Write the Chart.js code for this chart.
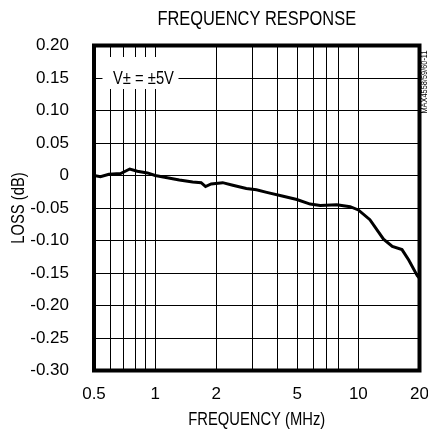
<!DOCTYPE html>
<html>
<head>
<meta charset="utf-8">
<script src="https://cdn.jsdelivr.net/npm/chart.js@4"></script>
<style>
    html, body { margin: 0; padding: 0; background: #fff; }
    #chart { display: block; }
</style>
</head>
<body>
<canvas id="chart" width="428" height="433"></canvas>
<script>
// Frequency (MHz) and loss (dB)
const freqMHz = [0.5, 0.538, 0.592, 0.676, 0.75, 0.817, 0.916, 1.0, 1.13, 1.315, 1.53, 1.684, 1.77, 1.886,
    2.15, 2.41, 2.81, 3.15, 3.54, 4.27, 4.98, 5.79, 6.49, 7.83, 9.11, 10.0, 11.4, 13.3, 14.7, 16.4, 17.7, 19.5, 20];
const lossDb = [0.0, -0.002, 0.002, 0.003, 0.010, 0.0065, 0.004, 0.0, -0.003, -0.007, -0.010, -0.011, -0.017, -0.013,
    -0.011, -0.015, -0.020, -0.022, -0.026, -0.032, -0.037, -0.044, -0.046, -0.045, -0.048, -0.053, -0.068, -0.098,
    -0.109, -0.114, -0.130, -0.154, -0.158];

// Axis ticks
const xGridValues = [0.5, 0.6, 0.7, 0.8, 0.9, 1, 2, 3, 4, 5, 6, 7, 8, 10, 20];
const xTickLabels = [0.5, 1, 2, 5, 10, 20];
const yTickValues = [-0.30, -0.25, -0.20, -0.15, -0.10, -0.05, 0, 0.05, 0.10, 0.15, 0.20];

const FONT = '"Liberation Sans", Arial, sans-serif';

// the original uses a narrow Helvetica, so squeeze the text sideways
function narrowText(ctx, text, x, y, size, angle) {
    ctx.save();
    ctx.translate(x, y);
    if (angle) ctx.rotate(angle);
    ctx.scale(0.82, 1);
    ctx.font = size + 'px ' + FONT;
    ctx.fillStyle = '#000';
    ctx.textAlign = 'center';
    ctx.textBaseline = 'middle';
    ctx.fillText(text, 0, 0);
    ctx.restore();
}

// Titles, V+- label, frame and side code
const decorPlugin = {
    id: 'decor',
    beforeDatasetsDraw(chart) {
        const ctx = chart.ctx;
        const x = chart.scales.x, y = chart.scales.y;
        const cx = x.getPixelForValue(0.876);
        const cy = y.getPixelForValue(0.15);
        ctx.save();
        ctx.fillStyle = '#fff';
        ctx.fillRect(cx - 41, cy - 21, 76, 32);
        ctx.restore();
        narrowText(ctx, 'V\u00B1 = \u00B15V', cx, cy + 1, 18);
    },
    afterDraw(chart) {
        const ctx = chart.ctx;
        const a = chart.chartArea;
        ctx.save();
        ctx.strokeStyle = '#000';
        ctx.lineWidth = 4;
        ctx.strokeRect(a.left, a.top, a.right - a.left, a.bottom - a.top);
        ctx.restore();

        narrowText(ctx, 'FREQUENCY RESPONSE', (a.left + a.right) / 2, 19, 20);
        narrowText(ctx, 'FREQUENCY (MHz)', (a.left + a.right) / 2, 420, 18);
        narrowText(ctx, 'LOSS (dB)', 19, (a.top + a.bottom) / 2, 18, -Math.PI / 2);
        narrowText(ctx, 'MAX4558/59/60-11', 425, 82, 9, -Math.PI / 2);
    }
};

const ctx = document.getElementById('chart').getContext('2d');
const chart = new Chart(ctx, {
    type: 'line',
    data: {
        datasets: [{
            data: freqMHz.map((f, i) => ({ x: f, y: lossDb[i] })),
            borderColor: '#000',
            borderWidth: 3,
            pointRadius: 0,
            tension: 0
        }]
    },
    options: {
        responsive: false,
        animation: false,
        devicePixelRatio: 1,
        layout: { padding: { left: 0, top: 45.5, right: 8.5, bottom: 0 } },
        plugins: {
            legend: { display: false },
            tooltip: { enabled: false },
            title: { display: false }
        },
        scales: {
            x: {
                type: 'logarithmic',
                min: 0.5,
                max: 20,
                afterBuildTicks: s => { s.ticks = xGridValues.map(v => ({ value: v })); },
                afterFit: s => { s.height = 433 - 370.5; s.paddingLeft = 0; s.paddingRight = 0; },
                grid: { color: '#000', lineWidth: 1, drawTicks: false },
                border: { display: false },
                ticks: {
                    autoSkip: false,
                    maxRotation: 0,
                    padding: 14,
                    color: '#000',
                    font: { family: FONT, size: 17 },
                    callback: v => xTickLabels.includes(v) ? String(v) : ''
                }
            },
            y: {
                min: -0.30,
                max: 0.20,
                afterBuildTicks: s => { s.ticks = yTickValues.map(v => ({ value: v })); },
                afterFit: s => { s.width = 94; s.paddingTop = 0; s.paddingBottom = 0; },
                grid: { color: '#000', lineWidth: 1, drawTicks: false },
                border: { display: false },
                ticks: {
                    padding: 25,
                    color: '#000',
                    font: { family: FONT, size: 17 },
                    callback: v => Math.abs(v) < 1e-9 ? '0' : v.toFixed(2)
                }
            }
        }
    },
    plugins: [decorPlugin]
});
</script>
</body>
</html>
